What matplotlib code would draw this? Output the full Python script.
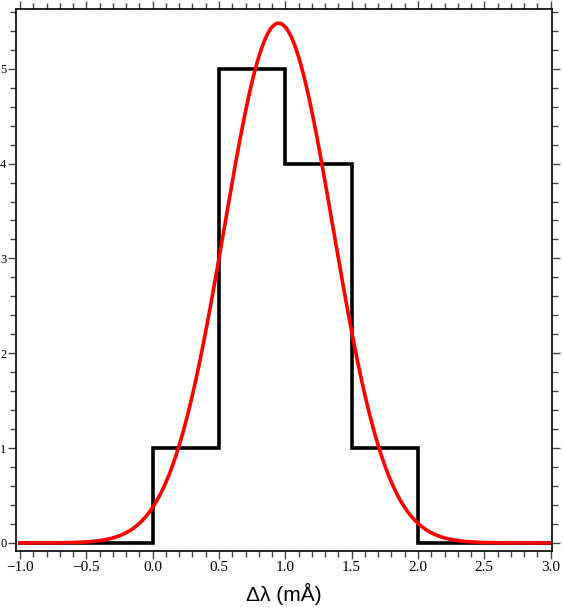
import numpy as np
import matplotlib
matplotlib.use('Agg')
import matplotlib.pyplot as plt
from matplotlib.ticker import MultipleLocator

# histogram of wavelength shifts
bin_edges = [0.0, 0.5, 1.0, 1.5, 2.0]
counts = [1, 5, 4, 1]

# gaussian fit
fit_amp = 5.48
fit_center = 0.95
fit_sigma = 0.41

x_range = [-1.0, 3.0]
x_ticks = [-1.0, -0.5, 0.0, 0.5, 1.0, 1.5, 2.0, 2.5, 3.0]
y_ticks = [0, 1, 2, 3, 4, 5]

fig = plt.figure(figsize=(5.63, 6.07), dpi=100)
ax = fig.add_axes([0.0284, 0.0923, 0.952, 0.8929])

# step outline, closed down to zero at both ends, flat zero outside
sx = [x_range[0]] + [e for e in bin_edges for _ in (0, 1)] + [x_range[1]]
sy = [0, 0] + [c for c in counts for _ in (0, 1)] + [0, 0]
ax.plot(sx, sy, color='black', lw=2.6, solid_joinstyle='miter')

xf = np.linspace(x_range[0], x_range[1], 400)
yf = fit_amp * np.exp(-(xf - fit_center) ** 2 / (2 * fit_sigma ** 2))
ax.plot(xf, yf, color='red', lw=2.6)

ax.set_xlim(-1.03, 3.01)
ax.set_ylim(-0.085, 5.63)
ax.set_xticks(x_ticks)
ax.set_xticklabels(['\u22121.0', '\u22120.5', '0.0', '0.5', '1.0', '1.5', '2.0', '2.5', '3.0'])
ax.set_yticks(y_ticks)
ax.xaxis.set_minor_locator(MultipleLocator(0.1))
ax.yaxis.set_minor_locator(MultipleLocator(0.2))
ax.tick_params(which='both', direction='out', top=True, right=True,
               labeltop=False, labelright=False, color='#444444', width=1)
ax.tick_params(which='major', length=6)
ax.tick_params(which='minor', length=4)
ax.tick_params(axis='x', labelsize=11, pad=1)
ax.tick_params(axis='y', labelsize=9, pad=1)
for lab in ax.get_xticklabels() + ax.get_yticklabels():
    lab.set_family('Liberation Serif')
for sp in ax.spines.values():
    sp.set_linewidth(1.2)

ax.set_xlabel('\u0394\u03bb (m\u00c5)', fontsize=15, family='Liberation Sans', labelpad=7)

fig.savefig('out.png', dpi=100)
